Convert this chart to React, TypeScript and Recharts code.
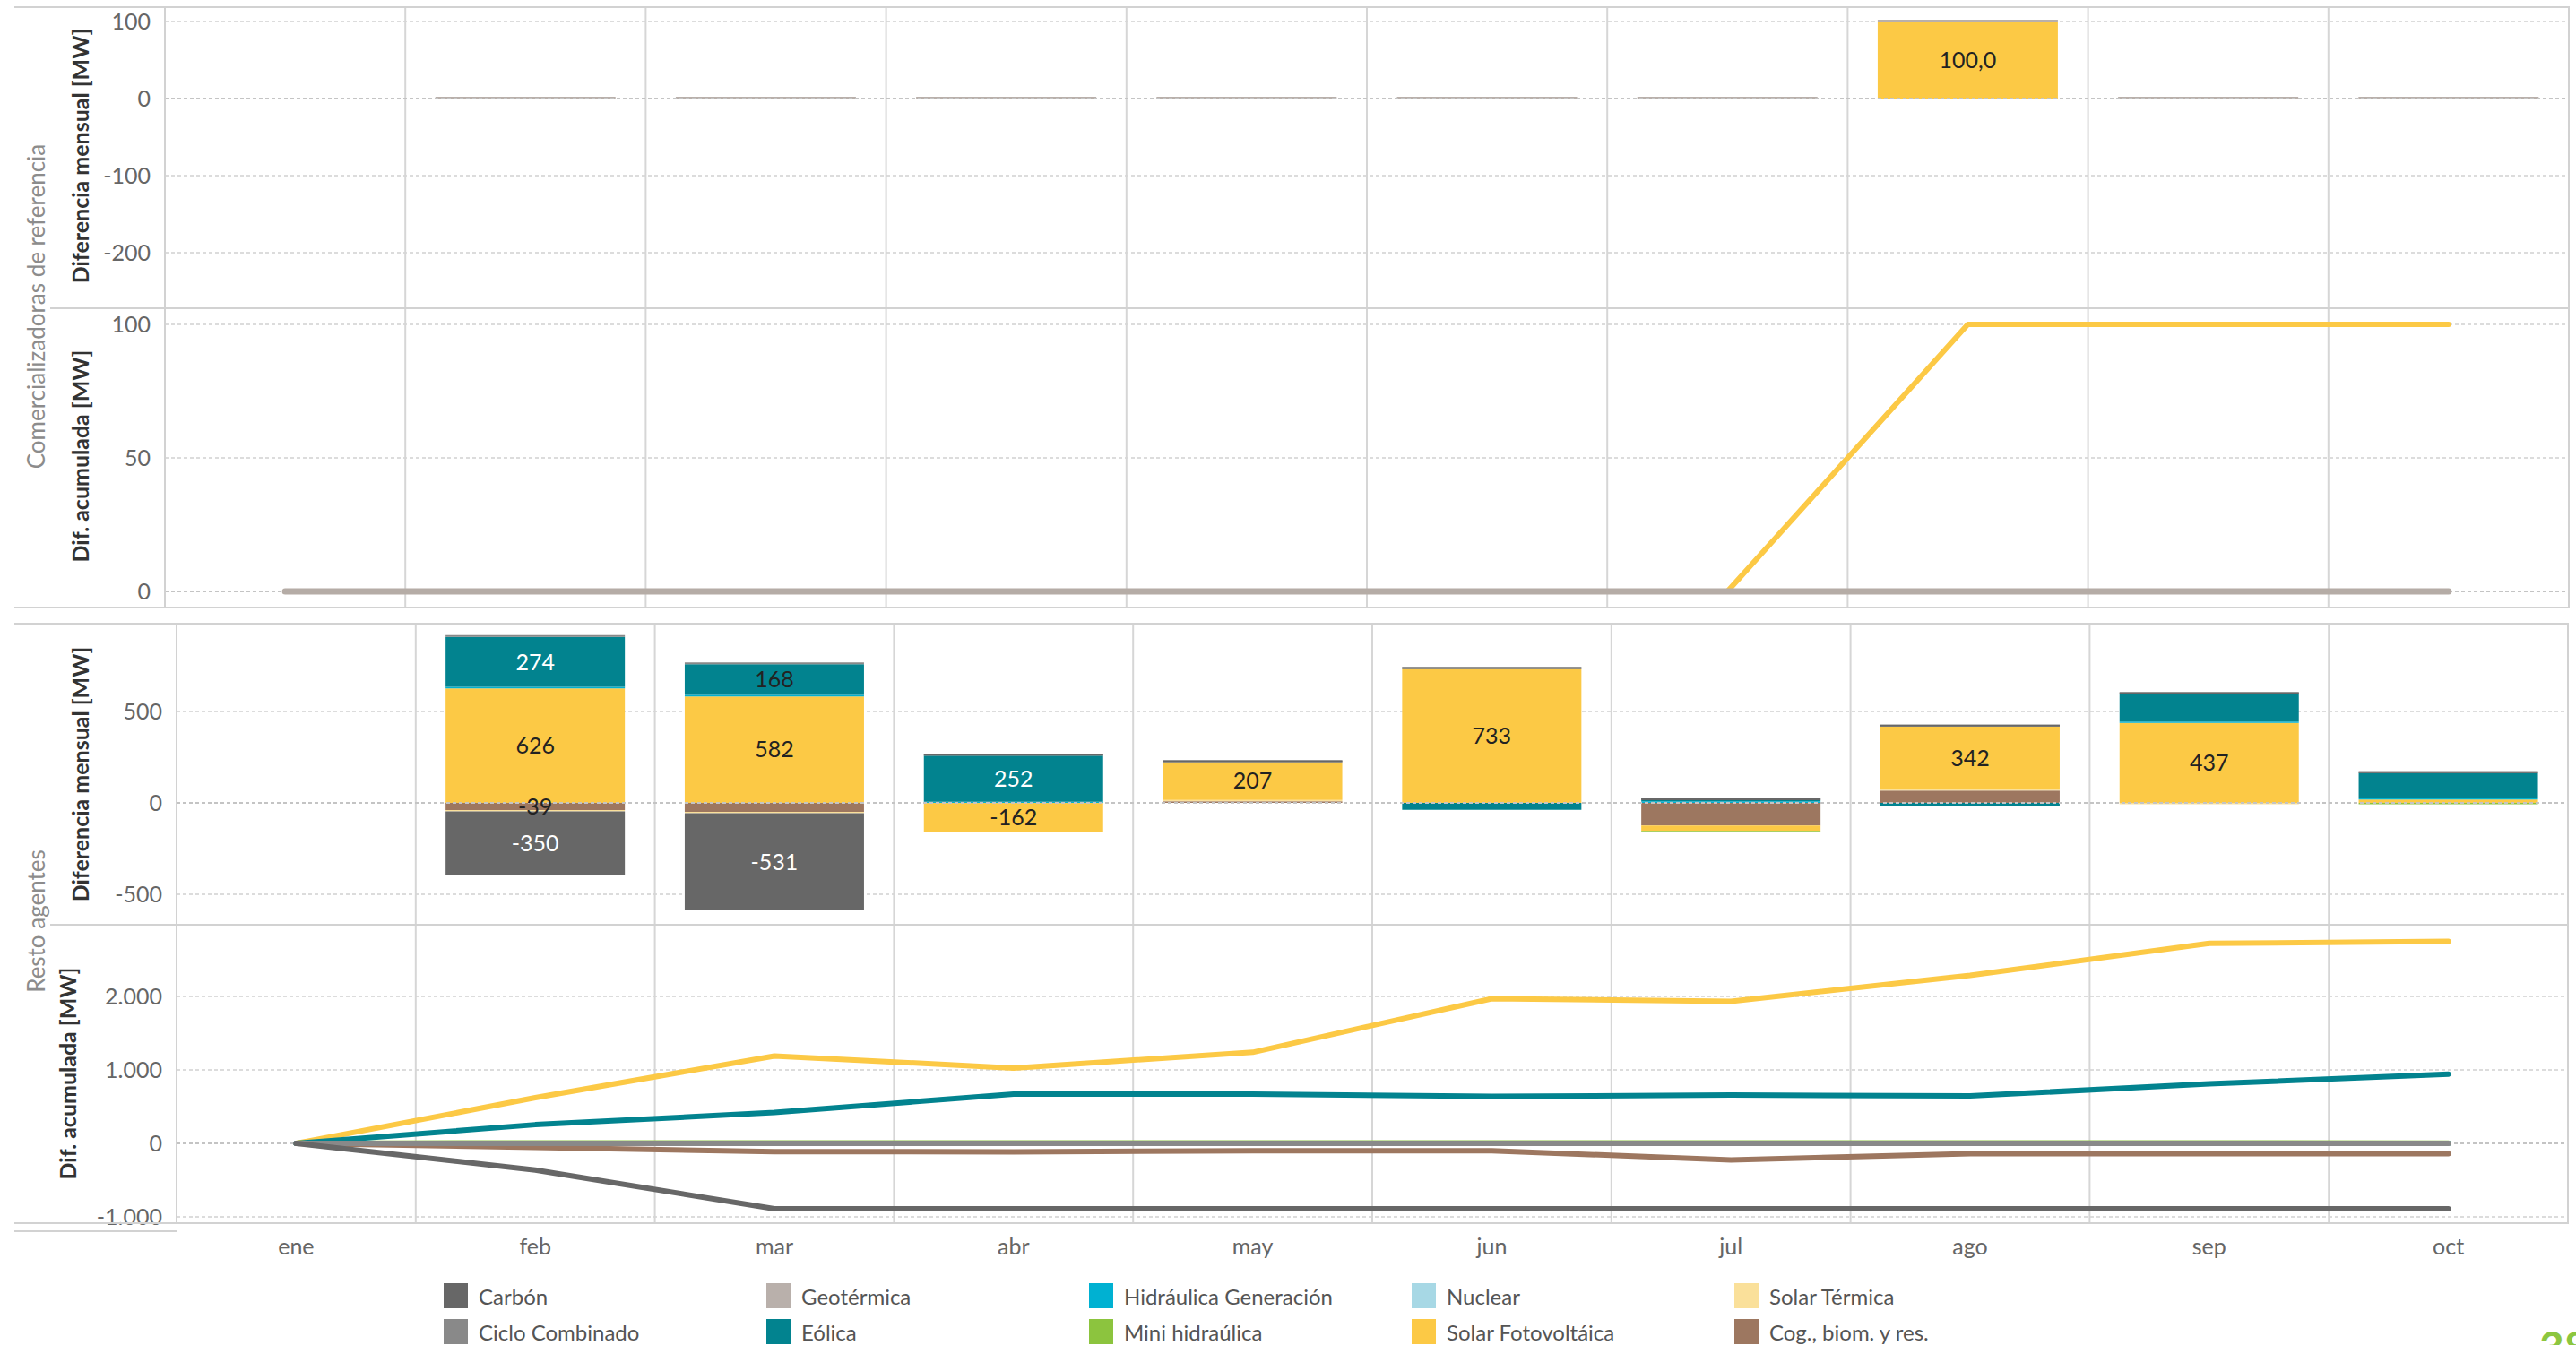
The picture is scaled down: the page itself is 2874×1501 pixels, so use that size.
import React from "react";
import {
  ComposedChart,
  Bar,
  Line,
  XAxis,
  YAxis,
  CartesianGrid,
  ReferenceLine,
  LabelList,
} from "recharts";

const meses = ["ene", "feb", "mar", "abr", "may", "jun", "jul", "ago", "sep", "oct"];

// Comercializadoras de referencia
const comSolarFV = [null, 0, 0, 0, 0, 0, 0, 100, 0, 0];
const comGeot = [null, 0, 0, 0, 0, 0, 0, 0, 0, 0];
const comSolarLbl = [null, null, null, null, null, null, null, "100,0", null, null];
const comAcumSolarFV = [0, 0, 0, 0, 0, 0, 0, 100, 100, 100];
const comAcumGeot = [0, 0, 0, 0, 0, 0, 0, 0, 0, 0];

// Resto agentes - diferencia mensual
const carbon = [null, -350, -531, 0, 0, 0, 0, 0, 0, 0];
const ciclo = [null, 0, 0, 0, 0, 0, 0, 0, 0, 0];
const geot = [null, 0, 0, 0, 0, 0, 0, 0, 0, 0];
const eolica = [null, 274, 168, 252, 0, -38, 6, -18, 150, 137];
const hidr = [null, 8, 8, 6, 0, 0, 8, 0, 8, 8];
const mini = [null, 0, 0, 0, 0, 0, -8, 0, 0, -8];
const nuclear = [null, 0, 0, 0, 0, 0, 0, 0, 0, 0];
const solarFV = [null, 626, 582, -162, 207, 733, -29, 342, 437, 18];
const solarTerm = [null, -8, -8, 0, 8, 0, 0, 8, -8, 0];
const cog = [null, -39, -49, 0, 8, 0, -124, 67, 0, 0];

const eolicaLblClaro = [null, "274", null, "252", null, null, null, null, null, null];
const eolicaLblOscuro = [null, null, "168", null, null, null, null, null, null, null];
const solarFVLbl = [null, "626", "582", "-162", "207", "733", null, "342", "437", null];
const cogLbl = [null, "-39", null, null, null, null, null, null, null, null];
const carbonLbl = [null, "-350", "-531", null, null, null, null, null, null, null];

// Resto agentes - diferencia acumulada
const acumCarbon = [0, -362, -890, -890, -890, -890, -890, -890, -890, -890];
const acumCiclo = [0, 0, 0, 0, 0, 0, 0, 0, 0, 0];
const acumGeot = [0, 0, 0, 0, 0, 0, 0, 0, 0, 0];
const acumEolica = [0, 255, 420, 672, 672, 640, 658, 646, 810, 943];
const acumHidr = [0, 0, 0, 0, 0, 0, 0, 0, 0, 0];
const acumMini = [0, 8, 8, 8, 8, 8, 6, 6, 6, 4];
const acumNuclear = [0, 0, 0, 0, 0, 0, 0, 0, 0, 0];
const acumSolarFV = [0, 622, 1190, 1026, 1240, 1970, 1933, 2287, 2722, 2750];
const acumSolarTerm = [0, 0, 0, 0, 0, 0, 0, 0, 0, 0];
const acumCog = [0, -55, -112, -115, -100, -100, -225, -140, -140, -140];

// orden de apilado (de abajo hacia arriba)
const series = [
  { key: "cog", name: "Cog., biom. y res.", color: "#9d7760", mensual: cog, acum: acumCog },
  { key: "solarTerm", name: "Solar Térmica", color: "#fae09a", mensual: solarTerm, acum: acumSolarTerm },
  { key: "solarFV", name: "Solar Fotovoltáica", color: "#fcc945", mensual: solarFV, acum: acumSolarFV },
  { key: "nuclear", name: "Nuclear", color: "#a7d8e5", mensual: nuclear, acum: acumNuclear },
  { key: "mini", name: "Mini hidraúlica", color: "#8cc43e", mensual: mini, acum: acumMini },
  { key: "hidr", name: "Hidráulica Generación", color: "#00b1d2", mensual: hidr, acum: acumHidr },
  { key: "eolica", name: "Eólica", color: "#02838f", mensual: eolica, acum: acumEolica },
  { key: "geot", name: "Geotérmica", color: "#b9b0ab", mensual: geot, acum: acumGeot },
  { key: "ciclo", name: "Ciclo Combinado", color: "#898989", mensual: ciclo, acum: acumCiclo },
  { key: "carbon", name: "Carbón", color: "#676767", mensual: carbon, acum: acumCarbon },
];

const leyenda = [
  ["carbon", "ciclo"],
  ["geot", "eolica"],
  ["hidr", "mini"],
  ["nuclear", "solarFV"],
  ["solarTerm", "cog"],
];

const color = (k: string) => series.find((s) => s.key === k)!.color;
const nombre = (k: string) => series.find((s) => s.key === k)!.name;

const filasComMensual = meses.map((m, i) => ({
  mes: m,
  solarFV: comSolarFV[i],
  geot: comGeot[i],
  lbl: comSolarLbl[i],
}));
const filasComAcum = meses.map((m, i) => ({ mes: m, solarFV: comAcumSolarFV[i], geot: comAcumGeot[i] }));

const filasMensual = meses.map((m, i) => {
  const fila: any = { mes: m };
  series.forEach((s) => (fila[s.key] = s.mensual[i]));
  fila.eolLblClaro = eolicaLblClaro[i];
  fila.eolLblOscuro = eolicaLblOscuro[i];
  fila.solarLbl = solarFVLbl[i];
  fila.cogLbl = cogLbl[i];
  fila.carbonLbl = carbonLbl[i];
  return fila;
});
const filasAcum = meses.map((m, i) => {
  const fila: any = { mes: m };
  series.forEach((s) => (fila[s.key] = s.acum[i]));
  return fila;
});

const FONT = "Lato, 'Open Sans', sans-serif";
const M0 = { top: 0, right: 0, bottom: 0, left: 0 };
const tickY = { fill: "#666", fontSize: 25, fontFamily: FONT };
const lblStyle = { fontSize: 25, fontFamily: FONT };

const miles = (v: number) => {
  const s = Math.abs(v).toString().replace(/\B(?=(\d{3})+(?!\d))/g, ".");
  return v < 0 ? "-" + s : s;
};

// líneas verticales en los límites de cada mes
const limites = ({ offset }: any) =>
  Array.from({ length: 9 }, (_, i) => offset.left + (offset.width * (i + 1)) / 10);

// segmentos nulos dibujados como una raya fina (salvo enero, sin datos)
const raya = (_v: any, i: number) => (i === 0 ? 0 : 2);

const Rejilla = () => [
  <CartesianGrid key="h" vertical={false} stroke="#dcdcdc" strokeWidth={2} strokeDasharray="4 3" />,
  <CartesianGrid
    key="v"
    horizontal={false}
    stroke="#d6d6d6"
    strokeWidth={2}
    verticalCoordinatesGenerator={limites}
  />,
];

const Caja = ({ left, top, width, height }: any) => (
  <div style={{ position: "absolute", left, top, width, height, background: "#d2d2d2" }} />
);

const Titulo = ({ x, y, texto, fuerte, size }: any) => (
  <div
    style={{
      position: "absolute",
      left: x,
      top: y,
      transform: "translate(-50%, -50%) rotate(-90deg)",
      whiteSpace: "nowrap",
      fontSize: size,
      fontWeight: fuerte ? 700 : 400,
      color: fuerte ? "#333" : "#8c8c8c",
      fontFamily: FONT,
    }}
  >
    {texto}
  </div>
);

export default function App() {
  return (
    <div
      style={{
        position: "fixed",
        left: 0,
        top: 0,
        width: 2874,
        height: 1501,
        overflow: "hidden",
        background: "#fff",
        fontFamily: FONT,
      }}
    >
      {/* Comercializadoras: diferencia mensual */}
      <div style={{ position: "absolute", left: 0, top: 8 }}>
        <ComposedChart width={2866} height={336} data={filasComMensual} margin={M0} stackOffset="sign" barCategoryGap="12.5%">
          {Rejilla()}
          <XAxis dataKey="mes" hide scale="band" />
          <YAxis
            type="number"
            width={184}
            domain={[-272, 118.6]}
            ticks={[-200, -100, 0, 100]}
            allowDataOverflow
            axisLine={false}
            tickLine={false}
            tickSize={0}
            tickMargin={16}
            tick={tickY}
          />
          <ReferenceLine y={0} stroke="#c4c4c4" strokeWidth={2} strokeDasharray="4 3" />
          <Bar dataKey="solarFV" stackId="c" fill={color("solarFV")} isAnimationActive={false}>
            <LabelList dataKey="lbl" position="center" fill="#222" {...lblStyle} />
          </Bar>
          <Bar dataKey="geot" stackId="c" fill={color("geot")} minPointSize={raya} isAnimationActive={false} />
        </ComposedChart>
      </div>

      {/* Comercializadoras: diferencia acumulada */}
      <div style={{ position: "absolute", left: 0, top: 344 }}>
        <ComposedChart width={2866} height={334} data={filasComAcum} margin={M0}>
          {Rejilla()}
          <XAxis dataKey="mes" hide scale="band" />
          <YAxis
            type="number"
            width={184}
            domain={[-6, 106]}
            ticks={[0, 50, 100]}
            allowDataOverflow
            axisLine={false}
            tickLine={false}
            tickSize={0}
            tickMargin={16}
            tick={tickY}
          />
          <ReferenceLine y={0} stroke="#c4c4c4" strokeWidth={2} strokeDasharray="4 3" />
          <Line
            dataKey="solarFV"
            stroke={color("solarFV")}
            strokeWidth={6}
            dot={false}
            activeDot={false}
            strokeLinecap="round"
            strokeLinejoin="round"
            isAnimationActive={false}
          />
          <Line
            dataKey="geot"
            stroke="#b5aca6"
            strokeWidth={7}
            dot={false}
            activeDot={false}
            strokeLinecap="round"
            isAnimationActive={false}
          />
        </ComposedChart>
      </div>

      {/* Resto agentes: diferencia mensual */}
      <div style={{ position: "absolute", left: 0, top: 696 }}>
        <ComposedChart width={2865} height={336} data={filasMensual} margin={M0} stackOffset="sign" barCategoryGap="12.5%">
          {Rejilla()}
          <XAxis dataKey="mes" hide scale="band" />
          <YAxis
            type="number"
            width={197}
            domain={[-667, 980]}
            ticks={[-500, 0, 500]}
            allowDataOverflow
            axisLine={false}
            tickLine={false}
            tickSize={0}
            tickMargin={16}
            tick={tickY}
          />
          <ReferenceLine y={0} stroke="#c4c4c4" strokeWidth={2} strokeDasharray="4 3" />
          {series.map((s) => (
            <Bar
              key={s.key}
              dataKey={s.key}
              stackId="r"
              fill={s.color}
              minPointSize={s.key === "ciclo" || s.key === "carbon" ? raya : 0}
              isAnimationActive={false}
            >
              {s.key === "eolica" && <LabelList dataKey="eolLblClaro" position="center" fill="#fff" {...lblStyle} />}
              {s.key === "eolica" && <LabelList dataKey="eolLblOscuro" position="center" fill="#222" {...lblStyle} />}
              {s.key === "solarFV" && <LabelList dataKey="solarLbl" position="center" fill="#222" {...lblStyle} />}
              {s.key === "cog" && <LabelList dataKey="cogLbl" position="center" fill="#222" {...lblStyle} />}
              {s.key === "carbon" && <LabelList dataKey="carbonLbl" position="center" fill="#fff" {...lblStyle} />}
            </Bar>
          ))}
        </ComposedChart>
      </div>

      {/* Resto agentes: diferencia acumulada */}
      <div style={{ position: "absolute", left: 0, top: 1032 }}>
        <ComposedChart width={2865} height={383} data={filasAcum} margin={M0}>
          {Rejilla()}
          <XAxis
            dataKey="mes"
            scale="band"
            height={50}
            interval={0}
            axisLine={false}
            tickLine={false}
            tickSize={0}
            tickMargin={17}
            tick={{ fill: "#666", fontSize: 25, fontFamily: FONT }}
          />
          <YAxis
            type="number"
            width={197}
            domain={[-1085, 2976]}
            ticks={[-1000, 0, 1000, 2000]}
            tickFormatter={miles}
            allowDataOverflow
            axisLine={false}
            tickLine={false}
            tickSize={0}
            tickMargin={16}
            tick={tickY}
          />
          <ReferenceLine y={0} stroke="#c4c4c4" strokeWidth={2} strokeDasharray="4 3" />
          {series.map((s) => (
            <Line
              key={s.key}
              dataKey={s.key}
              stroke={s.color}
              strokeWidth={6}
              dot={false}
              activeDot={false}
              strokeLinecap="round"
              strokeLinejoin="round"
              isAnimationActive={false}
            />
          ))}
        </ComposedChart>
      </div>

      {/* marcos */}
      <Caja left={16} top={7} width={2851} height={2} />
      <Caja left={56} top={343} width={2811} height={2} />
      <Caja left={16} top={677} width={2851} height={2} />
      <Caja left={183} top={7} width={2} height={672} />
      <Caja left={2865} top={7} width={2} height={672} />

      <Caja left={16} top={695} width={2850} height={2} />
      <Caja left={56} top={1031} width={2810} height={2} />
      <Caja left={16} top={1364} width={2850} height={2} />
      <Caja left={196} top={695} width={2} height={671} />
      <Caja left={2864} top={695} width={2} height={671} />
      <Caja left={16} top={1373} width={181} height={2} />

      {/* títulos */}
      <Titulo x={40} y={342} size={26} texto="Comercializadoras de referencia" />
      <Titulo x={89} y={174} size={25} texto="Diferencia mensual [MW]" fuerte />
      <Titulo x={89} y={509} size={25} texto="Dif. acumulada [MW]" fuerte />
      <Titulo x={40} y={1028} size={26} texto="Resto agentes" />
      <Titulo x={89} y={864} size={25} texto="Diferencia mensual [MW]" fuerte />
      <Titulo x={75} y={1198} size={25} texto="Dif. acumulada [MW]" fuerte />

      {/* leyenda */}
      {leyenda.map((col, c) =>
        col.map((k, r) => (
          <div
            key={k}
            style={{
              position: "absolute",
              left: 495 + c * 360,
              top: 1432 + r * 40,
              display: "flex",
              alignItems: "center",
              height: 28,
            }}
          >
            <div style={{ width: 27, height: 28, background: color(k), marginRight: 12 }} />
            <span style={{ fontSize: 24, color: "#555", whiteSpace: "nowrap" }}>{nombre(k)}</span>
          </div>
        ))
      )}

      <div
        style={{
          position: "absolute",
          left: 2833,
          top: 1479,
          fontSize: 48,
          lineHeight: 1,
          fontWeight: 700,
          color: "#8cc63f",
        }}
      >
        38
      </div>
    </div>
  );
}
